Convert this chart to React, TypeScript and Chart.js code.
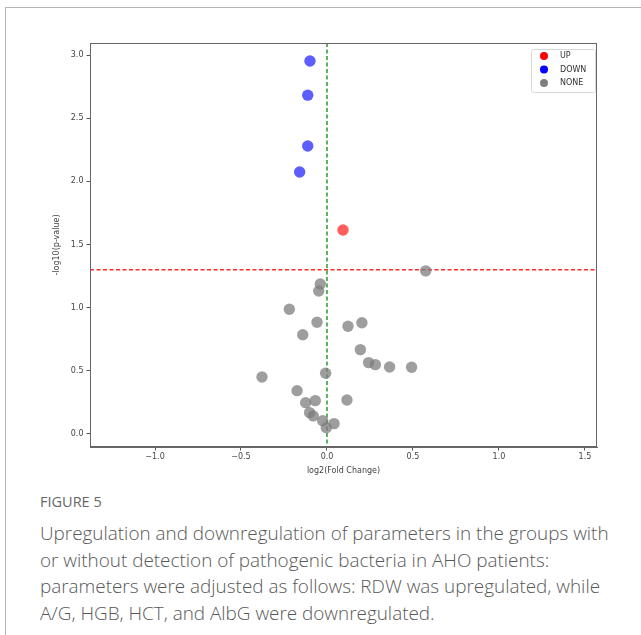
import React, { useEffect, useRef } from "react";
import { Chart, registerables } from "chart.js";

Chart.register(...registerables);

const upX = [0.093];
const upY = [1.615];
const downX = [-0.099, -0.112, -0.112, -0.159];
const downY = [2.953, 2.682, 2.28, 2.074];
const noneX = [0.574, -0.039, -0.048, -0.219, -0.058, 0.122, 0.203, -0.141, 0.194, 0.242, 0.281, 0.364, 0.492, -0.008, -0.378, -0.174, -0.124, -0.068, 0.116, -0.101, -0.08, -0.025, 0.041, -0.004];
const noneY = [1.291, 1.188, 1.132, 0.987, 0.884, 0.853, 0.881, 0.786, 0.668, 0.565, 0.549, 0.53, 0.528, 0.481, 0.451, 0.343, 0.248, 0.264, 0.269, 0.169, 0.143, 0.105, 0.082, 0.05];
const xTicks = [-1.0, -0.5, 0.0, 0.5, 1.0, 1.5];
const yTicks = [0.0, 0.5, 1.0, 1.5, 2.0, 2.5, 3.0];
const pThreshold = 1.301;
const fcThreshold = 0;
const legendLabels = ["UP", "DOWN", "NONE"];
const legendColors = ["#ff0000", "#0000ff", "#808080"];
const captionTitle = "FIGURE 5";
const captionLines = [
  "Upregulation and downregulation of parameters in the groups with",
  "or without detection of pathogenic bacteria in AHO patients:",
  "parameters were adjusted as follows: RDW was upregulated, while",
  "A/G, HGB, HCT, and AlbG were downregulated.",
];

const toPts = (xs: number[], ys: number[]) => xs.map((x, i) => ({ x, y: ys[i] }));
const fmt = (v: number) => {
  const s = Math.abs(v).toFixed(1);
  return v < -1e-9 ? "\u2212" + s : s;
};

export default function App() {
  const ref = useRef<HTMLCanvasElement | null>(null);
  useEffect(() => {
    document.body.style.margin = "0";
    if (!ref.current) return;
    const font = "'DejaVu Sans', sans-serif";
    const linesPlugin = {
      id: "thresholds",
      beforeDatasetsDraw(chart: any) {
        const { ctx, chartArea, scales } = chart;
        ctx.save();
        ctx.beginPath();
        ctx.rect(chartArea.left, chartArea.top, chartArea.right - chartArea.left, chartArea.bottom - chartArea.top);
        ctx.clip();
        ctx.lineWidth = 1.5;
        ctx.setLineDash([4, 2.5]);
        const yy = scales.y.getPixelForValue(pThreshold);
        ctx.strokeStyle = "#ff2a2a";
        ctx.beginPath();
        ctx.moveTo(chartArea.left, yy);
        ctx.lineTo(chartArea.right, yy);
        ctx.stroke();
        const xx = scales.x.getPixelForValue(fcThreshold);
        ctx.strokeStyle = "#2a9a2a";
        ctx.beginPath();
        ctx.moveTo(xx, chartArea.top);
        ctx.lineTo(xx, chartArea.bottom);
        ctx.stroke();
        ctx.restore();
      },
      afterDraw(chart: any) {
        const { ctx, chartArea } = chart;
        ctx.save();
        ctx.strokeStyle = "#666";
        ctx.lineWidth = 1;
        ctx.strokeRect(chartArea.left + 0.5, chartArea.top + 0.5, chartArea.right - chartArea.left - 1, chartArea.bottom - chartArea.top - 1);
        // legend
        const bx = chartArea.right - 66, by = chartArea.top + 6, bw = 64, bh = 43;
        ctx.fillStyle = "rgba(255,255,255,0.9)";
        ctx.strokeStyle = "#d8d8d8";
        ctx.beginPath();
        ctx.roundRect(bx + 0.5, by + 0.5, bw, bh, 2);
        ctx.fill();
        ctx.stroke();
        ctx.font = `8px ${font}`;
        ctx.textBaseline = "middle";
        legendLabels.forEach((lab, i) => {
          const cy = by + 7 + i * 13.5;
          ctx.fillStyle = legendColors[i];
          ctx.beginPath();
          ctx.arc(bx + 13, cy, 4, 0, Math.PI * 2);
          ctx.fill();
          ctx.fillStyle = "#333";
          ctx.fillText(lab, bx + 29, cy);
        });
        ctx.restore();
      },
    };
    const chart = new Chart(ref.current, {
      type: "scatter",
      data: {
        datasets: [
          { label: "UP", data: toPts(upX, upY), backgroundColor: "rgba(255,40,40,0.75)", borderWidth: 0, pointRadius: 5.7 },
          { label: "DOWN", data: toPts(downX, downY), backgroundColor: "rgba(40,40,255,0.75)", borderWidth: 0, pointRadius: 5.7 },
          { label: "NONE", data: toPts(noneX, noneY), backgroundColor: "rgba(125,125,125,0.75)", borderWidth: 0, pointRadius: 5.7 },
        ],
      },
      options: {
        responsive: false,
        animation: false,
        layout: { padding: { left: 48, top: 43, right: 44, bottom: 0 } },
        plugins: { legend: { display: false }, tooltip: { enabled: false } },
        scales: {
          x: {
            type: "linear",
            min: -1.378,
            max: 1.57,
            afterFit: (s: any) => { s.height = 33; },
            afterBuildTicks: (s: any) => { s.ticks = xTicks.map((v) => ({ value: v })); },
            ticks: { callback: (v: any) => fmt(Number(v)), font: { family: font, size: 8 }, color: "#444", padding: 2, maxRotation: 0 },
            grid: { display: true, drawOnChartArea: false, drawTicks: true, tickLength: 3.5, color: "#555" },
            border: { display: true, color: "#666" },
            title: { display: true, text: "log2(Fold Change)", font: { family: font, size: 8 }, color: "#444", padding: { top: 0, bottom: 4 } },
          },
          y: {
            type: "linear",
            min: -0.103,
            max: 3.095,
            afterFit: (s: any) => { s.width = 42; },
            afterBuildTicks: (s: any) => { s.ticks = yTicks.map((v) => ({ value: v })); },
            ticks: { callback: (v: any) => fmt(Number(v)), font: { family: font, size: 8 }, color: "#444", padding: 3 },
            grid: { display: true, drawOnChartArea: false, drawTicks: true, tickLength: 3.5, color: "#555" },
            border: { display: true, color: "#666" },
            title: { display: true, text: "-log10(p-value)", font: { family: font, size: 8 }, color: "#444", padding: { top: 4, bottom: 0 } },
          },
        },
      },
      plugins: [linesPlugin],
    } as any);
    return () => chart.destroy();
  }, []);

  return (
    <div style={{ position: "relative", width: 641, height: 635, overflow: "hidden", background: "#fff" }}>
      <div style={{ position: "absolute", left: 5, top: 7, right: -2, bottom: -2, borderLeft: "1px solid #b5b5b5", borderTop: "1px solid #b5b5b5" }} />
      <canvas ref={ref} width={641} height={480} style={{ position: "absolute", left: 0, top: 0 }} />
      <div style={{ position: "absolute", left: 40, top: 493, fontFamily: "'Open Sans', sans-serif", fontSize: 14.5, color: "#666", whiteSpace: "nowrap", lineHeight: "18px" }}>
        {captionTitle}
      </div>
      <div style={{ position: "absolute", left: 40, top: 520, fontFamily: "'Open Sans', sans-serif", fontSize: 18.9, color: "#585858", whiteSpace: "nowrap", lineHeight: "26.5px", fontWeight: 300 }}>
        {captionLines.map((l, i) => (
          <div key={i}>{l}</div>
        ))}
      </div>
    </div>
  );
}
